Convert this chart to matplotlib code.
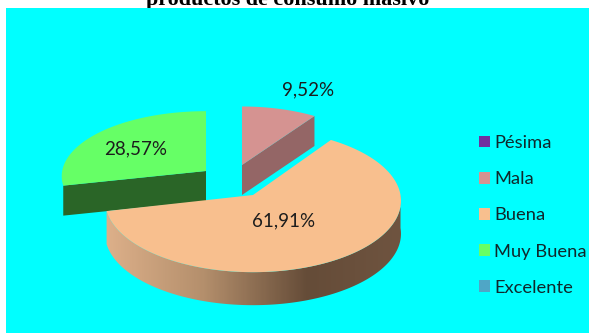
import numpy as np
import matplotlib
matplotlib.use("Agg")
import matplotlib.pyplot as plt
from matplotlib.patches import Polygon, Patch
from matplotlib.colors import LinearSegmentedColormap

categories = ["Pésima", "Mala", "Buena", "Muy Buena", "Excelente"]
values = [0.0, 9.52, 61.91, 28.57, 0.0]
title = "productos de consumo masivo"

top_colors = ["#7030A0", "#D59391", "#F8BF8E", "#66FF66", "#4FA6C6"]
side_colors = ["#3C1A56", "#946666", "#6A5040", "#2A6527", "#2B5A6B"]

# apex of each slice, its scale and wall height, in pixels
apex = {1: (242, 165), 2: (253, 195), 3: (206, 171)}
scale = {1: (0.93, 0.89), 2: (1.0, 1.0), 3: (0.975, 0.91)}
depth = {1: 30, 2: 33, 3: 30}
label_pos = {1: (308, 90), 2: (284, 221), 3: (136, 149)}

RX = 147.5
RY = 71
PERSP = 0.08


def rim(slice_idx, angles):
    # angles are clockwise from 12 o'clock, in degrees
    cx, cy = apex[slice_idx]
    sx, sy = scale[slice_idx]
    a = np.radians(angles)
    s = 1 / (1 + PERSP * np.cos(a))
    return np.column_stack([
        cx + sx * RX * np.sin(a) * s,
        cy - sy * RY * np.cos(a) * s,
    ])


fig = plt.figure(figsize=(5.89, 3.33), dpi=100)
ax = fig.add_axes([0, 0, 1, 1])
ax.set_xlim(0, 589)
ax.set_ylim(333, 0)
ax.axis("off")

ax.add_patch(plt.Rectangle((6, 8), 583, 325, color="#00FFFF", lw=0, zorder=1))
ax.text(288, 5, title, family="Liberation Serif", weight="bold", fontsize=15.9,
        ha="center", va="baseline", color="black", zorder=0.5)

edges = np.cumsum([0] + values) / sum(values) * 360

# Mala first, then Muy Buena, Buena last so it sits in front
for i in [1, 3, 2]:
    start, end = edges[i], edges[i + 1]
    centre = np.array(apex[i], dtype=float)
    arc = rim(i, np.linspace(start, end, 200))
    shift = np.array([0, depth[i]])

    if i == 1:
        # cut face on the right side of the slice
        ax.add_patch(Polygon([centre, arc[-1], arc[-1] + shift, centre + shift],
                             color=side_colors[i], lw=0, zorder=2))
    elif i == 3:
        ax.add_patch(Polygon([centre, arc[0], arc[0] + shift, centre + shift],
                             color=side_colors[i], lw=0, zorder=3))
    else:
        # outer wall with a left to right shading
        wall = rim(i, np.linspace(90, end, 300))
        outline = np.vstack([wall, (wall + shift)[::-1]])
        clip = Polygon(outline, transform=ax.transData, fc="none", lw=0)
        ax.add_patch(clip)
        cmap = LinearSegmentedColormap.from_list(
            "wall", [(0, "#DDB08A"), (0.33, "#B48F6C"), (0.68, "#654C38"), (1, "#6F5440")])
        grad = np.linspace(0, 1, 300)
        im = ax.imshow(grad[None, :], extent=(105, 403, 333, 150), cmap=cmap,
                       aspect="auto", zorder=4)
        im.set_clip_path(clip)
        ax.set_xlim(0, 589)
        ax.set_ylim(333, 0)

    ax.add_patch(Polygon(np.vstack([centre, arc]), color=top_colors[i], lw=0,
                         zorder=5 if i == 2 else 4))
    ax.text(*label_pos[i], f"{values[i]:.2f}%".replace(".", ","), family="Lato",
            fontsize=13.5, ha="center", va="center", color="#1C1C1C", zorder=6)

handles = [Patch(color=c, lw=0) for c in top_colors]
ax.legend(handles, categories, loc="upper left", bbox_to_anchor=(479 / 589, 1 - 135 / 333),
          frameon=False, prop={"family": "Lato", "size": 13.2}, labelcolor="#10282C",
          handlelength=0.58, handleheight=0.6, handletextpad=0.25, labelspacing=1.1,
          borderpad=0, borderaxespad=0)

fig.savefig("out.png", dpi=100)
